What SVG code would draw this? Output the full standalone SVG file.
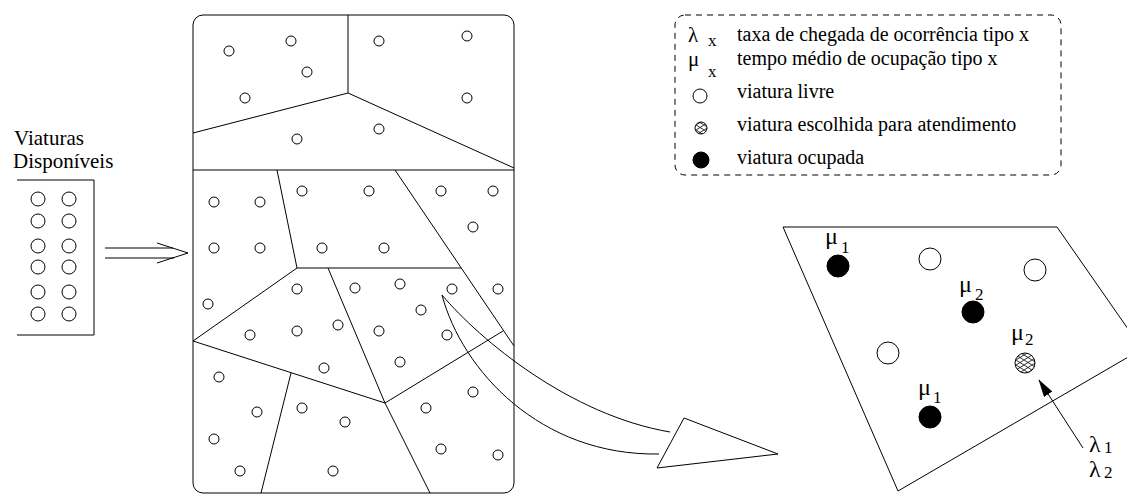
<svg xmlns="http://www.w3.org/2000/svg" width="1127" height="495" viewBox="0 0 1127 495">
<style>
.ln{fill:none;stroke:#000;stroke-width:1}
.oc{fill:#fff;stroke:#000;stroke-width:1}
.fc{fill:#000;stroke:#000;stroke-width:1}
.hc{fill:url(#hatch);stroke:#000;stroke-width:1}
.t{font-family:"Liberation Serif","Times New Roman",serif;font-size:20px;fill:#000}
.g{font-family:"Liberation Serif","Times New Roman",serif;font-size:24px;fill:#000}
.gl{font-family:"Liberation Serif","Times New Roman",serif;font-size:21px;fill:#000}
.s{font-family:"Liberation Serif","Times New Roman",serif;font-size:17px;fill:#000}
</style>
<defs>
<pattern id="hatch" width="8" height="5" patternUnits="userSpaceOnUse">
<rect width="8" height="5" fill="#fff"/>
<path d="M0,0 L8,5 M0,5 L8,0" stroke="#000" stroke-width="0.8"/>
</pattern>
<marker id="ah" markerWidth="18" markerHeight="10" refX="17" refY="5" orient="auto" markerUnits="userSpaceOnUse">
<path d="M0,0 L18,5 L0,10 Z" fill="#000"/>
</marker>
</defs>

<g id="disponiveis">
<text class="t" x="14" y="145" style="font-size:21px">Viaturas</text>
<text class="t" x="13" y="168" style="font-size:21px">Disponíveis</text>
<polyline class="ln" points="17,180 94,180 94,335 17,335"/>
<g>
<circle class="oc" cx="38" cy="199" r="7"/><circle class="oc" cx="69" cy="199" r="7"/>
<circle class="oc" cx="38" cy="221" r="7"/><circle class="oc" cx="69" cy="221" r="7"/>
<circle class="oc" cx="38" cy="246" r="7"/><circle class="oc" cx="69" cy="246" r="7"/>
<circle class="oc" cx="38" cy="267" r="7"/><circle class="oc" cx="69" cy="267" r="7"/>
<circle class="oc" cx="38" cy="292" r="7"/><circle class="oc" cx="69" cy="292" r="7"/>
<circle class="oc" cx="38" cy="314" r="7"/><circle class="oc" cx="69" cy="314" r="7"/>
</g>
</g>

<g id="mapa">
<rect class="ln" x="193" y="15" width="321" height="478" rx="10"/>
<g id="regioes">
<line class="ln" x1="348" y1="15" x2="348" y2="93"/>
<line class="ln" x1="193" y1="133" x2="348" y2="93"/>
<line class="ln" x1="348" y1="93" x2="514" y2="168"/>
<line class="ln" x1="193" y1="170" x2="514" y2="170"/>
<line class="ln" x1="277" y1="170" x2="297" y2="268"/>
<line class="ln" x1="297" y1="268" x2="461" y2="268"/>
<line class="ln" x1="395" y1="170" x2="514" y2="346"/>
<line class="ln" x1="297" y1="268" x2="193" y2="341"/>
<line class="ln" x1="328" y1="268" x2="385" y2="403"/>
<line class="ln" x1="193" y1="341" x2="385" y2="403"/>
<line class="ln" x1="385" y1="403" x2="503" y2="331"/>
<line class="ln" x1="291" y1="373" x2="261" y2="493"/>
<line class="ln" x1="385" y1="403" x2="430" y2="493"/>
</g>
<g id="viaturas-mapa">
<circle class="oc" cx="229" cy="51" r="5"/>
<circle class="oc" cx="291" cy="41" r="5"/>
<circle class="oc" cx="307" cy="72" r="5"/>
<circle class="oc" cx="245" cy="98" r="5"/>
<circle class="oc" cx="379" cy="41" r="5"/>
<circle class="oc" cx="467" cy="36" r="5"/>
<circle class="oc" cx="467" cy="98" r="5"/>
<circle class="oc" cx="297" cy="139" r="5"/>
<circle class="oc" cx="379" cy="129" r="5"/>
<circle class="oc" cx="214" cy="202" r="5"/>
<circle class="oc" cx="260" cy="202" r="5"/>
<circle class="oc" cx="302" cy="191" r="5"/>
<circle class="oc" cx="369" cy="191" r="5"/>
<circle class="oc" cx="441" cy="191" r="5"/>
<circle class="oc" cx="493" cy="191" r="5"/>
<circle class="oc" cx="473" cy="227" r="5"/>
<circle class="oc" cx="214" cy="248" r="5"/>
<circle class="oc" cx="260" cy="248" r="5"/>
<circle class="oc" cx="322" cy="248" r="5"/>
<circle class="oc" cx="384" cy="248" r="5"/>
<circle class="oc" cx="208" cy="304" r="5"/>
<circle class="oc" cx="297" cy="289" r="5"/>
<circle class="oc" cx="355" cy="288" r="5"/>
<circle class="oc" cx="400" cy="284" r="5"/>
<circle class="oc" cx="452" cy="289" r="5"/>
<circle class="oc" cx="498" cy="289" r="5"/>
<circle class="oc" cx="421" cy="310" r="5"/>
<circle class="oc" cx="250" cy="335" r="5"/>
<circle class="oc" cx="297" cy="331" r="5"/>
<circle class="oc" cx="338" cy="325" r="5"/>
<circle class="oc" cx="379" cy="331" r="5"/>
<circle class="oc" cx="447" cy="335" r="5"/>
<circle class="oc" cx="324" cy="368" r="5"/>
<circle class="oc" cx="400" cy="362" r="5"/>
<circle class="oc" cx="219" cy="377" r="5"/>
<circle class="oc" cx="257" cy="412" r="5"/>
<circle class="oc" cx="302" cy="408" r="5"/>
<circle class="oc" cx="345" cy="422" r="5"/>
<circle class="oc" cx="426" cy="408" r="5"/>
<circle class="oc" cx="473" cy="392" r="5"/>
<circle class="oc" cx="214" cy="439" r="5"/>
<circle class="oc" cx="240" cy="471" r="5"/>
<circle class="oc" cx="333" cy="471" r="5"/>
<circle class="oc" cx="441" cy="449" r="5"/>
<circle class="oc" cx="498" cy="455" r="5"/>
</g>
</g>

<g id="legenda">
<rect x="675" y="15" width="386" height="160" rx="10" fill="none" stroke="#000" stroke-width="1" stroke-dasharray="6,5"/>
<text class="gl" x="688" y="42">λ</text><text class="s" x="708" y="46">x</text>
<text class="gl" x="688" y="66">μ</text><text class="s" x="708" y="77">x</text>
<circle class="oc" cx="700" cy="96" r="7"/>
<circle class="hc" cx="701" cy="128" r="6"/>
<circle class="fc" cx="701" cy="160" r="8"/>
<text class="t" x="737" y="41">taxa de chegada de ocorrência tipo x</text>
<text class="t" x="737" y="65">tempo médio de ocupação tipo x</text>
<text class="t" x="737" y="98">viatura livre</text>
<text class="t" x="737" y="131">viatura escolhida para atendimento</text>
<text class="t" x="737" y="164">viatura ocupada</text>
</g>

<g id="regiao-detalhe">
<polygon class="ln" points="783,227 1057,227 1142,349 898,491"/>
<circle class="fc" cx="838" cy="266" r="11"/>
<circle class="oc" cx="930" cy="259" r="11"/>
<circle class="oc" cx="1035" cy="270" r="11"/>
<circle class="fc" cx="973" cy="312" r="11"/>
<circle class="oc" cx="888" cy="353" r="11"/>
<circle class="hc" cx="1025" cy="363" r="10"/>
<circle class="fc" cx="930" cy="417" r="11"/>
<text class="g" x="825" y="244">μ</text><text class="s" x="841" y="253">1</text>
<text class="g" x="959" y="292">μ</text><text class="s" x="975" y="300">2</text>
<text class="g" x="1011" y="340">μ</text><text class="s" x="1025" y="345">2</text>
<text class="g" x="918" y="395">μ</text><text class="s" x="933" y="403">1</text>
<text class="g" x="1089" y="452">λ</text><text class="s" x="1104" y="453">1</text>
<text class="g" x="1089" y="477">λ</text><text class="s" x="1104" y="478">2</text>
</g>

<g id="conectores">
<line class="ln" x1="105" y1="248" x2="173" y2="248"/>
<line class="ln" x1="105" y1="258" x2="174" y2="258"/>
<polyline class="ln" points="157,243 188,253 157,263"/>
<path class="ln" d="M442,295 C480,340 570,415 670,432"/>
<path class="ln" d="M442,295 C462,370 540,456 659,454"/>
<polygon class="ln" points="684,418 778,454 657,468"/>
<line class="ln" x1="1083" y1="448" x2="1039" y2="380" marker-end="url(#ah)"/>
</g>
</svg>
